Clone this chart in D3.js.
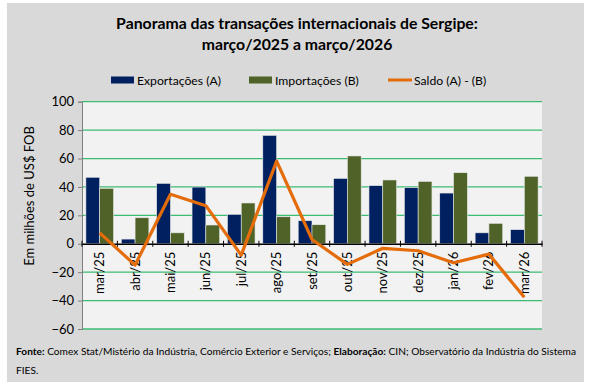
<!DOCTYPE html>
<html>
<head>
<meta charset="utf-8">
<script src="https://cdn.jsdelivr.net/npm/d3@7"></script>
<style>
  body { margin: 0; background: #fff; }
  svg { display: block; font-family: Lato, "Liberation Sans", Arial, sans-serif; }
</style>
</head>
<body>
<svg id="chart" width="591" height="391"></svg>
<script>
// monthly values, US$ millions FOB
var months = ["mar/25", "abr/25", "mai/25", "jun/25", "jul/25", "ago/25", "set/25", "out/25", "nov/25", "dez/25", "jan/26", "fev/26", "mar/26"];
var exportacoes = [46.8, 3.3, 42.5, 39.9, 20.7, 76.3, 16.2, 46.0, 40.9, 39.5, 35.7, 7.7, 9.9];
var importacoes = [39.0, 18.3, 7.7, 13.2, 28.7, 19.0, 13.4, 61.8, 44.9, 43.9, 50.0, 14.4, 47.5];
var saldo = [7.7, -15.0, 34.8, 26.8, -8.0, 58.2, 3.0, -14.5, -3.2, -4.9, -13.4, -7.3, -37.7];
var yTicks = [-60, -40, -20, 0, 20, 40, 60, 80, 100];
var seriesNames = ["Exportações (A)", "Importações (B)", "Saldo (A) - (B)"];

var colExp = "#002060", colImp = "#4f6228", colSaldo = "#e46c0a", colGrid = "#3dbb72";

var svg = d3.select("#chart");
var plotL = 82, plotR = 542, plotT = 101.7, plotB = 329;

// outer panel
svg.append("rect").attr("x", 7).attr("y", 3).attr("width", 577).attr("height", 379).attr("fill", "#d9d9d9");
svg.append("rect").attr("x", plotL).attr("y", plotT).attr("width", plotR - plotL).attr("height", plotB - plotT).attr("fill", "#f2f2f2");

var x = d3.scaleBand().domain(months).range([plotL, plotR]).paddingInner(0.22).paddingOuter(0.11);
var xc = d3.scaleBand().domain(months).range([plotL, plotR]);
var xs = d3.scaleBand().domain(["exp", "imp"]).range([0, x.bandwidth()]);
var y = d3.scaleLinear().domain([-60, 100]).range([plotB, plotT]);

// gridlines
svg.append("g").selectAll("line").data(yTicks.filter(function(d) { return d !== 0; })).enter().append("line")
  .attr("x1", plotL).attr("x2", plotR)
  .attr("y1", function(d) { return y(d); }).attr("y2", function(d) { return y(d); })
  .attr("stroke", colGrid).attr("stroke-width", 1.3);

// bars
var groups = svg.append("g").selectAll("g").data(months).enter().append("g")
  .attr("transform", function(d) { return "translate(" + x(d) + ",0)"; });
groups.append("rect")
  .attr("x", xs("exp")).attr("width", xs.bandwidth())
  .attr("y", function(d, i) { return y(exportacoes[i]); })
  .attr("height", function(d, i) { return y(0) - y(exportacoes[i]); })
  .attr("fill", colExp).attr("stroke", "#e8e8e8").attr("stroke-width", 0.6);
groups.append("rect")
  .attr("x", xs("imp")).attr("width", xs.bandwidth())
  .attr("y", function(d, i) { return y(importacoes[i]); })
  .attr("height", function(d, i) { return y(0) - y(importacoes[i]); })
  .attr("fill", colImp).attr("stroke", "#e8e8e8").attr("stroke-width", 0.6);

// y axis
var yAxis = d3.axisLeft(y).tickValues(yTicks).tickSize(4).tickPadding(4);
var yg = svg.append("g").attr("transform", "translate(" + plotL + ",0)").call(yAxis);
yg.attr("font-family", null);
yg.select(".domain").attr("stroke", "#7f7f7f");
yg.selectAll(".tick line").attr("stroke", "#7f7f7f");
yg.selectAll("text").attr("font-size", 13).attr("fill", "#000");

// x axis along zero
var xAxis = d3.axisBottom(xc).tickSize(0).tickFormat("");
var xg = svg.append("g").attr("transform", "translate(0," + y(0) + ")").call(xAxis);
xg.attr("font-family", null);
xg.select(".domain").attr("stroke", "#000").attr("stroke-width", 1.5);
xg.selectAll(".tick").remove();
var bounds = months.map(function(d) { return xc(d); }).concat([plotR]);
xg.selectAll("line.sep").data(bounds).enter().append("line").attr("class", "sep")
  .attr("x1", function(d) { return d; }).attr("x2", function(d) { return d; })
  .attr("y1", -3).attr("y2", 3).attr("stroke", "#000").attr("stroke-width", 1);
xg.selectAll("text.lbl").data(months).enter().append("text").attr("class", "lbl")
  .attr("transform", function(d) { return "translate(" + (xc(d) + xc.bandwidth() / 2 + 4.5) + ",8) rotate(-90)"; })
  .attr("text-anchor", "end").attr("font-size", 13).attr("fill", "#000")
  .text(function(d) { return d; });

// saldo line
var line = d3.line()
  .x(function(d, i) { return xc(months[i]) + xc.bandwidth() / 2; })
  .y(function(d) { return y(d); });
svg.append("path").datum(saldo).attr("d", line)
  .attr("fill", "none").attr("stroke", colSaldo).attr("stroke-width", 3.2).attr("stroke-linejoin", "round");

// axis title
svg.append("text").attr("transform", "translate(34,196) rotate(-90)")
  .attr("text-anchor", "middle").attr("font-size", 13).attr("fill", "#000")
  .text("Em milhões de US$ FOB");

// title
var title = svg.append("text").attr("text-anchor", "middle").attr("font-weight", "bold").attr("font-size", 15.8).attr("fill", "#000");
title.append("tspan").attr("x", 297).attr("y", 29).text("Panorama das transações internacionais de Sergipe:");
title.append("tspan").attr("x", 297).attr("y", 50).text("março/2025 a março/2026");

// legend
var legend = svg.append("g").attr("font-size", 12.2);
var legX = [111, 249, 388];
legend.append("rect").attr("x", legX[0]).attr("y", 76.5).attr("width", 23).attr("height", 7).attr("fill", colExp);
legend.append("rect").attr("x", legX[1]).attr("y", 76.5).attr("width", 23).attr("height", 7).attr("fill", colImp);
legend.append("line").attr("x1", legX[2]).attr("x2", legX[2] + 24).attr("y1", 80).attr("y2", 80).attr("stroke", colSaldo).attr("stroke-width", 3);
legend.selectAll("text").data(seriesNames).enter().append("text")
  .attr("x", function(d, i) { return legX[i] + 26; }).attr("y", 84.5)
  .attr("fill", "#000").text(function(d) { return d; });

// source, sized so the first line spans the panel like the reference
var src = svg.append("text").attr("font-size", 11).attr("fill", "#000");
src.append("tspan").attr("x", 16).attr("y", 355).attr("font-weight", "bold").text("Fonte:");
src.append("tspan").text(" Comex Stat/Mistério da Indústria, Comércio Exterior e Serviços; ");
src.append("tspan").attr("font-weight", "bold").text("Elaboração:");
src.append("tspan").text(" CIN; Observatório da Indústria do Sistema");
var srcLen = src.node().getComputedTextLength();
var srcSize = 11 * 561 / srcLen;
src.attr("font-size", srcSize);
svg.append("text").attr("x", 16).attr("y", 374).attr("font-size", srcSize).attr("fill", "#000").text("FIES.");
</script>
</body>
</html>
